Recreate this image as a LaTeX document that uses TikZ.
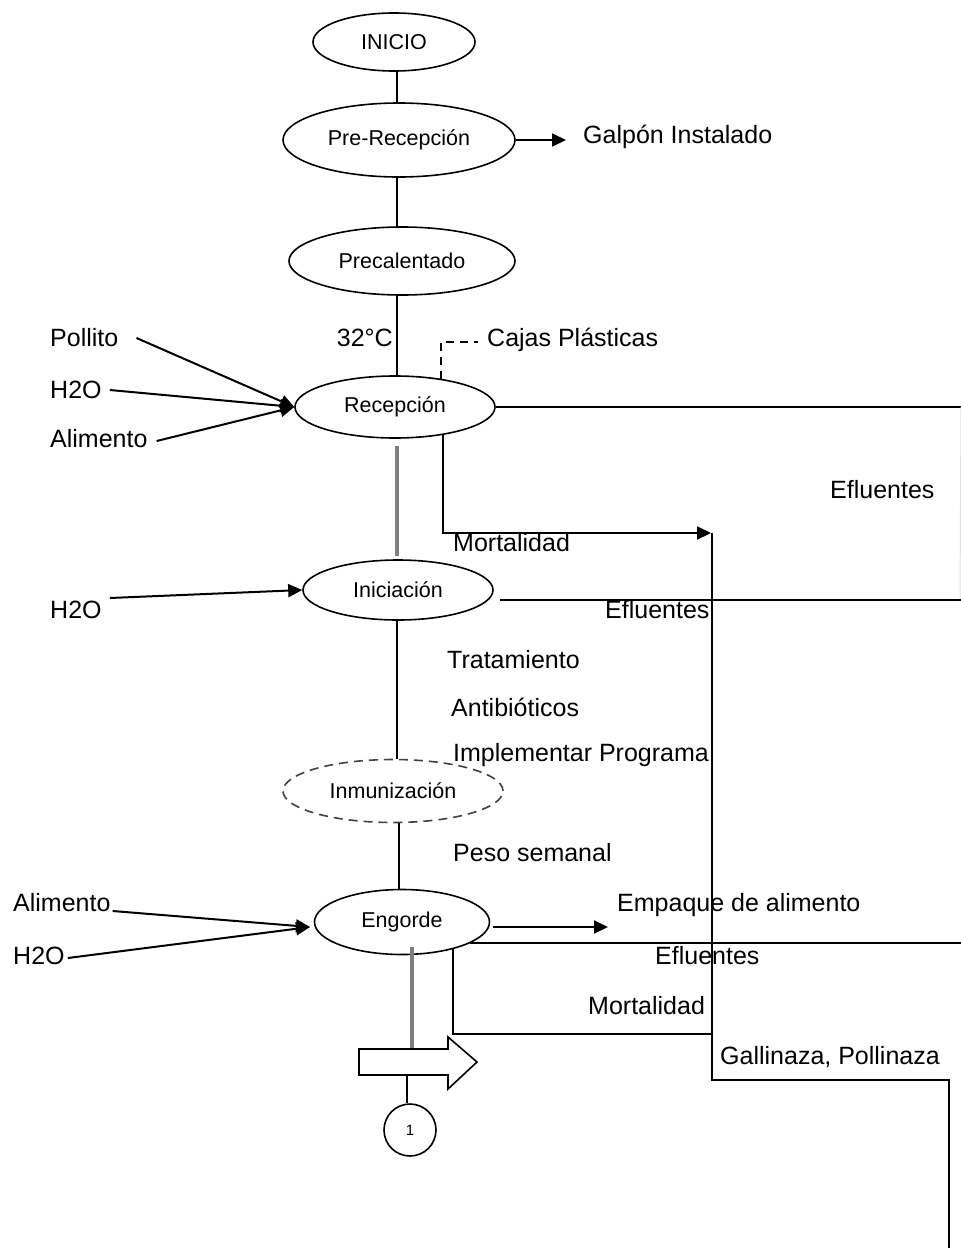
\documentclass[tikz,border=0pt]{standalone}
\usepackage{fontspec}
\setmainfont{Liberation Sans}
\usetikzlibrary{shapes.geometric,arrows.meta}
\begin{document}
\begin{tikzpicture}[x=1pt,y=-1pt,
  proc/.style={draw,ellipse,line width=1.6,inner sep=0pt,font=\fontsize{21.5}{25}\selectfont},
  lbl/.style={anchor=west,inner sep=0pt,font=\fontsize{25}{30}\selectfont,text height=18pt,text depth=5pt},
  ln/.style={line width=2},
  gln/.style={line width=3.2,draw=black!50},
  arr/.style={line width=2,-{Triangle[length=14pt,width=13pt]}},
]
\useasboundingbox (0,0) rectangle (961,1248);
% process ellipses
\node[proc,minimum width=162,minimum height=58] (ini) at (394,42) {INICIO};
\node[proc,minimum width=232,minimum height=74] (pre) at (399,140) {Pre-Recepción};
\node[proc,minimum width=226,minimum height=68] (prec) at (402,261) {Precalentado};
\node[proc,minimum width=200,minimum height=62] (rec) at (395,407) {Recepción};
\node[proc,minimum width=190,minimum height=60] (inic) at (398,590) {Iniciación};
\node[proc,dashed,dash pattern=on 9pt off 6pt,minimum width=220,minimum height=63,draw=black!75] (inm) at (393,791) {Inmunización};
\node[proc,minimum width=175,minimum height=65] (eng) at (402,922) {Engorde};
\node[draw,circle,line width=1.6,minimum size=52,inner sep=0pt,font=\fontsize{15}{17}\selectfont] (c1) at (410,1130) {1};

% text labels
\node[lbl] (galp) at (583,137) {Galpón Instalado};
\node[lbl,anchor=east] (t32) at (393,340) {32°C};
\node[lbl] (cajas) at (487,340) {Cajas Plásticas};
\node[lbl] (pol) at (50,340) {Pollito};
\node[lbl] (h2oa) at (50,392) {H2O};
\node[lbl] (alia) at (50,441) {Alimento};
\node[lbl] (ef1) at (830,492) {Efluentes};
\node[lbl] (mort1) at (453,545) {Mortalidad};
\node[lbl] (h2ob) at (50,612) {H2O};
\node[lbl] (ef2) at (605,612) {Efluentes};
\node[lbl] (trat) at (447,662) {Tratamiento};
\node[lbl] (anti) at (451,710) {Antibióticos};
\node[lbl] (impl) at (453,755) {Implementar Programa};
\node[lbl] (peso) at (453,855) {Peso semanal};
\node[lbl] (alib) at (13,905) {Alimento};
\node[lbl] (h2oc) at (13,958) {H2O};
\node[lbl] (emp) at (617,905) {Empaque de alimento};
\node[lbl] (ef3) at (655,958) {Efluentes};
\node[lbl] (mort2) at (588,1008) {Mortalidad};
\node[lbl] (gall) at (720,1058) {Gallinaza, Pollinaza};

% helper coordinates
\coordinate (vx) at (397,0);
\coordinate (vx2) at (399,0);
\coordinate (galpin) at (566,140);
\coordinate (cj1) at (441,379);
\coordinate (cj2) at (478,342);
\coordinate (e1end) at (961,407);
\coordinate (e1r) at (960,600);
\coordinate (m1s) at (443,434);
\coordinate (m1e) at (711,533);
\coordinate (m1v) at (712,533);
\coordinate (m1c) at (712,1080);
\coordinate (m1d) at (949,1080);
\coordinate (m1f) at (949,1248);
\coordinate (e2s) at (500,600);
\coordinate (e2end) at (961,600);
\coordinate (engin) at (310,927);
\coordinate (empst) at (493,927);
\coordinate (empend) at (608,927);
\coordinate (e3s) at (470,943);
\coordinate (e3end) at (961,943);
\coordinate (m2s) at (453,948);
\coordinate (m2e) at (712,1034);
\coordinate (gs) at (412,947);
\coordinate (bat) at (412,1049);
\coordinate (bab) at (407,1075);

% vertical main flow
\draw[ln] (ini.south -| vx) -- (pre.north -| vx);
\draw[ln] (pre.south -| vx) -- (prec.north -| vx);
\draw[ln] (prec.south -| vx) -- (rec.north -| vx);
\draw[gln] ([yshift=-7]rec.south -| vx) -- ([yshift=3]inic.north -| vx);
\draw[ln] (inic.south -| vx) -- (inm.north -| vx);
\draw[ln] (inm.south -| vx2) -- (eng.north -| vx2);
\draw[gln] (gs) -- (bat);
\draw[ln] (bab) -- (c1.north -| bab);

% block arrow
\draw[line width=1.6,fill=white] (359,1049) -- (448,1049) -- (448,1037) -- (477,1062) -- (448,1089) -- (448,1075) -- (359,1075) -- cycle;

% pre-recepcion output
\draw[arr] (pre.east) -- (galpin);

% cajas dashed
\draw[ln,dashed,dash pattern=on 8pt off 6pt] (cj1) |- (cj2);

% recepcion inputs
\draw[arr] ([xshift=18,yshift=2]pol.east) -- (rec.west);
\draw[arr] ([xshift=8,yshift=2]h2oa.east) -- (rec.west);
\draw[arr] ([xshift=9]alia.east) -- (rec.west);

% recepcion outputs
\draw[ln] (rec.east) -- (e1end);
\draw[line width=1,draw=black!12] (e1end) -- (e1r);
\draw[arr] (m1s) |- (m1e);
\draw[ln] (m1v) -- (m1c) -- (m1d) -- (m1f);

% iniciacion
\draw[arr] ([xshift=8,yshift=14]h2ob.east) -- (inic.west);
\draw[ln] (e2s) -- (e2end);

% engorde
\draw[arr] ([xshift=2,yshift=-6]alib.east) -- (engin);
\draw[arr] ([xshift=3]h2oc.east) -- (engin);
\draw[arr] (empst) -- (empend);
\draw[ln] (e3s) -- (e3end);
\draw[ln] (m2s) |- (m2e);
\end{tikzpicture}
\end{document}
